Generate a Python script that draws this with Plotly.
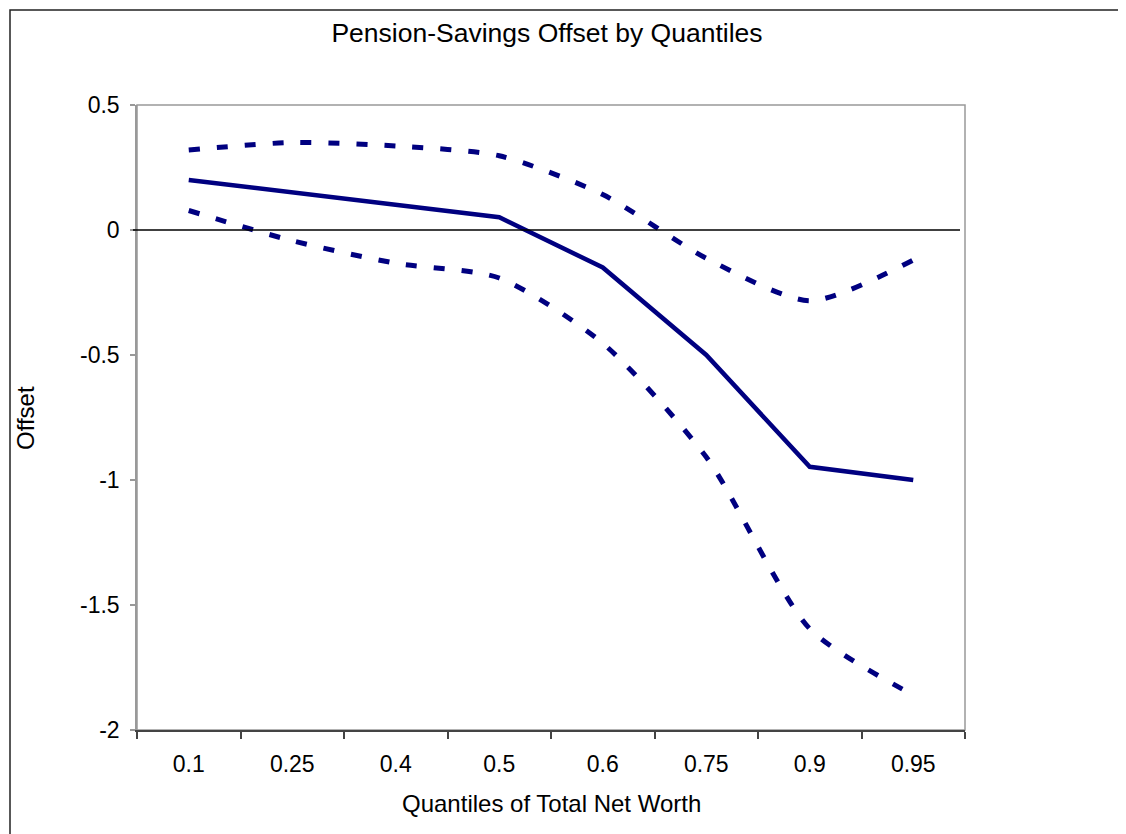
import plotly.graph_objects as go

quantiles = ["0.1", "0.25", "0.4", "0.5", "0.6", "0.75", "0.9", "0.95"]
offset = [0.20, 0.149, 0.10, 0.051, -0.150, -0.50, -0.947, -1.00]
upper = [0.32, 0.350, 0.336, 0.297, 0.142, -0.113, -0.283, -0.12]
lower = [0.078, -0.043, -0.133, -0.192, -0.453, -0.908, -1.595, -1.86]

W, H = 1126, 834
OFF = 8  # page body margin
# desired on-screen plot box: x 137..965, y 105..730
L, T = 137 - OFF, 105 - OFF
R, B = W - (965 - OFF), H - (730 - OFF)
PW, PH = W - L - R, H - T - B
NAVY = "#000080"
FONT = "Liberation Sans, Arial, sans-serif"

fig = go.Figure()
fig.add_trace(go.Scatter(x=quantiles, y=upper, mode="lines",
                         line=dict(color=NAVY, width=5, dash="11px,17px", shape="spline", smoothing=0.7),
                         name="Upper"))
fig.add_trace(go.Scatter(x=quantiles, y=lower, mode="lines",
                         line=dict(color=NAVY, width=5, dash="11px,17px", shape="spline", smoothing=0.7),
                         name="Lower"))
fig.add_trace(go.Scatter(x=quantiles, y=offset, mode="lines",
                         line=dict(color=NAVY, width=4.5), name="Offset"))

def px_x(p):
    # p is on-screen pixel
    return (p - OFF - L) / PW

def px_y(p):
    return (H - B - (p - OFF)) / PH

shapes = [
    dict(type="line", xref="paper", yref="y", x0=px_x(133), x1=px_x(960), y0=0, y1=0,
         line=dict(color="black", width=1.5), layer="above"),
    dict(type="rect", xref="paper", yref="paper", x0=px_x(10), x1=px_x(1300),
         y0=px_y(1000), y1=px_y(10), line=dict(color="#222222", width=1.5)),
    dict(type="rect", xref="paper", yref="paper", x0=0, x1=1, y0=0, y1=1,
         line=dict(color="#999999", width=1.5), layer="below"),
]

fig.update_layout(
    width=W, height=H,
    margin=dict(l=L, r=R, t=T, b=B, pad=0),
    paper_bgcolor="white", plot_bgcolor="white",
    showlegend=False,
    font=dict(family=FONT, color="black", size=23),
    title=dict(text="Pension-Savings Offset by Quantiles", x=(547 - OFF) / W, xanchor="center",
               y=1 - (33 - OFF) / H, yanchor="middle", font=dict(size=26.5, family=FONT)),
    shapes=shapes,
    annotations=[
        dict(text="Quantiles of Total Net Worth", xref="paper", yref="paper",
             x=px_x(551), y=px_y(803), xanchor="center", yanchor="middle",
             showarrow=False, font=dict(size=24, family=FONT)),
        dict(text="Offset", xref="paper", yref="paper", x=px_x(25), y=px_y(418),
             xanchor="center", yanchor="middle", textangle=-90,
             showarrow=False, font=dict(size=24, family=FONT)),
    ],
)
fig.update_xaxes(type="category", range=[-0.5, 7.5], showgrid=False, zeroline=False,
                 showline=True, linecolor="#444444", linewidth=1.5,
                 ticks="outside", ticklen=7, tickwidth=1.5, tickcolor="#444444",
                 tickson="boundaries", tickfont=dict(size=23, family=FONT),
                 ticklabelstandoff=13)
fig.update_yaxes(range=[-2, 0.5], tickvals=[0.5, 0, -0.5, -1, -1.5, -2],
                 ticktext=["0.5", "0", "-0.5", "-1", "-1.5", "-2"],
                 showgrid=False, zeroline=False,
                 showline=True, linecolor="#999999", linewidth=1.5,
                 ticks="outside", ticklen=5, tickwidth=1.5, tickcolor="#999999",
                 tickfont=dict(size=23, family=FONT), ticklabelstandoff=6)

fig.write_html("out.html")
